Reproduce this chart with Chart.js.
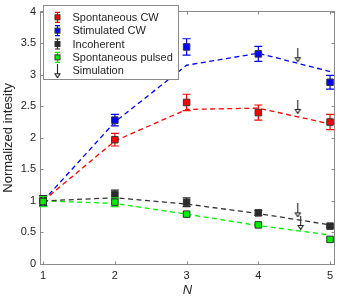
<!DOCTYPE html>
<html>
<head>
<meta charset="utf-8">
<script src="https://cdn.jsdelivr.net/npm/chart.js@4"></script>
<style>
  html, body { margin: 0; padding: 0; background: #fff; }
  #wrap { width: 342px; height: 298px; position: relative; }
</style>
</head>
<body>
<div id="wrap"><canvas id="chart"></canvas></div>
<script>
// x categories (N) and y ticks
const nValues = [1, 2, 3, 4, 5];
const yTicks = [0, 0.5, 1, 1.5, 2, 2.5, 3, 3.5, 4];
const yTickLabels = ['0', '0.5', '1', '1.5', '2', '2.5', '3', '3.5', '4'];

// measured points (with error bars)
const spontCW = [1.0, 1.97, 2.56, 2.40, 2.25];
const spontCWErr = [0.08, 0.10, 0.13, 0.12, 0.12];
const stimCW = [1.0, 2.28, 3.44, 3.33, 2.88];
const stimCWErr = [0.08, 0.09, 0.13, 0.12, 0.11];
const incoherent = [1.0, 1.10, 0.98, 0.81, 0.60];
const incoherentErr = [0.08, 0.07, 0.07, 0.04, 0.02];
const spontPulsed = [0.99, 0.98, 0.79, 0.62, 0.39];
const spontPulsedErr = [0.08, 0.07, 0.03, 0.03, 0.03];

// simulation curves
const simSpontCW = [1.0, 1.95, 2.45, 2.47, 2.22];
const simStimCW = [1.0, 2.25, 3.15, 3.34, 3.05];
const simIncoherent = [1.0, 1.05, 0.95, 0.80, 0.62];
const simSpontPulsed = [1.0, 0.96, 0.79, 0.61, 0.46];

// simulation arrows
const arrowN = [4.55, 4.55, 4.55, 4.59];
const arrowY = [3.31, 2.49, 0.85, 0.65];

const legendLabels = ['Spontaneous CW', 'Stimulated CW', 'Incoherent', 'Spontaneous pulsed', 'Simulation'];
const seriesColors = ['#ff0000', '#0000ff', '#2b2b2b', '#00ee00'];

const FONT = '"Liberation Sans", Arial, sans-serif';
Chart.defaults.font.family = FONT;

function makeArrow() {
    const c = document.createElement('canvas');
    c.width = 9; c.height = 14;
    const g = c.getContext('2d');
    g.strokeStyle = '#222'; g.lineWidth = 1.1;
    g.beginPath(); g.moveTo(4.5, 0); g.lineTo(4.5, 9.5); g.stroke();
    g.beginPath(); g.moveTo(2, 9.5); g.lineTo(7, 9.5); g.lineTo(4.5, 13.5); g.closePath();
    g.fillStyle = '#fff'; g.fill(); g.stroke();
    return c;
}
const arrowImg = makeArrow();

const pts = ys => nValues.map((n, i) => ({ x: n, y: ys[i] }));

const simLine = (ys, color) => ({
    data: pts(ys), showLine: true, pointRadius: 0, borderColor: color,
    borderWidth: 1.3, borderDash: [5, 3.5], order: 20, clip: false
});
const measured = (ys, errs, color, order) => ({
    data: pts(ys), pointStyle: 'rect', pointRadius: 4.6, backgroundColor: color,
    borderColor: '#333', borderWidth: 1, errors: errs, errorColor: color, order, clip: false
});

const errorBars = {
    id: 'errorBars',
    beforeDatasetDraw(chart, args) {
        const ds = chart.data.datasets[args.index];
        if (!ds.errors) return;
        const y = chart.scales.y, ctx = chart.ctx;
        ctx.save();
        ctx.strokeStyle = ds.errorColor; ctx.lineWidth = 1.2;
        args.meta.data.forEach((pt, i) => {
            const v = ds.data[i].y, e = ds.errors[i];
            const top = y.getPixelForValue(v + e), bot = y.getPixelForValue(v - e);
            ctx.beginPath();
            ctx.moveTo(pt.x, top); ctx.lineTo(pt.x, bot);
            ctx.moveTo(pt.x - 4, top); ctx.lineTo(pt.x + 4, top);
            ctx.moveTo(pt.x - 4, bot); ctx.lineTo(pt.x + 4, bot);
            ctx.stroke();
        });
        ctx.restore();
    }
};

const axisBox = {
    id: 'axisBox',
    beforeDatasetsDraw(chart) {
        const { ctx, chartArea: a, scales: { x, y } } = chart;
        ctx.save();
        ctx.strokeStyle = '#8a8a8a'; ctx.lineWidth = 1;
        const L = Math.round(a.left) - 0.5, R = Math.round(a.right) + 0.5;
        const T = Math.round(a.top) - 0.5, B = Math.round(a.bottom) + 0.5;
        ctx.strokeRect(L, T, R - L, B - T);
        ctx.beginPath();
        nValues.forEach(v => {
            const px = Math.round(x.getPixelForValue(v)) + 0.5;
            ctx.moveTo(px, B); ctx.lineTo(px, B - 3);
            ctx.moveTo(px, T); ctx.lineTo(px, T + 3);
        });
        yTicks.forEach(v => {
            const py = Math.round(y.getPixelForValue(v)) + 0.5;
            ctx.moveTo(L, py); ctx.lineTo(L + 3, py);
            ctx.moveTo(R, py); ctx.lineTo(R - 3, py);
        });
        ctx.stroke();
        ctx.restore();
    }
};

const boxLegend = {
    id: 'boxLegend',
    afterDraw(chart) {
        const ctx = chart.ctx;
        const bx = 43.5, by = 5.5, bw = 135, bh = 74;
        ctx.save();
        ctx.fillStyle = '#fff'; ctx.fillRect(bx, by, bw, bh);
        ctx.strokeStyle = '#8a8a8a'; ctx.lineWidth = 1; ctx.strokeRect(bx, by, bw, bh);
        ctx.font = '11px ' + FONT; ctx.textBaseline = 'middle'; ctx.fillStyle = '#262626';
        legendLabels.forEach((lab, i) => {
            const ry = 17.3 + i * 13.35, mx = 57.5;
            if (i < 4) {
                ctx.strokeStyle = seriesColors[i]; ctx.lineWidth = 1.2;
                ctx.beginPath();
                ctx.moveTo(mx, ry - 5); ctx.lineTo(mx, ry + 5);
                ctx.moveTo(mx - 2.5, ry - 5); ctx.lineTo(mx + 2.5, ry - 5);
                ctx.moveTo(mx - 2.5, ry + 5); ctx.lineTo(mx + 2.5, ry + 5);
                ctx.stroke();
                ctx.fillStyle = seriesColors[i]; ctx.fillRect(mx - 2.5, ry - 2.5, 5, 5);
                ctx.strokeStyle = '#333'; ctx.lineWidth = 1; ctx.strokeRect(mx - 2.5, ry - 2.5, 5, 5);
            } else {
                ctx.drawImage(arrowImg, mx - 4.5, ry - 6.5);
            }
            ctx.fillStyle = '#262626';
            ctx.fillText(lab, 72.5, ry + 0.5);
        });
        ctx.restore();
    }
};

new Chart(document.getElementById('chart'), {
    type: 'scatter',
    data: {
        datasets: [
            simLine(simSpontCW, seriesColors[0]),
            simLine(simStimCW, seriesColors[1]),
            simLine(simIncoherent, '#333333'),
            simLine(simSpontPulsed, seriesColors[3]),
            {
                data: arrowN.map((n, i) => ({ x: n, y: arrowY[i] })),
                pointStyle: arrowImg, pointRadius: 7, order: 0, clip: false
            },
            measured(spontCW, spontCWErr, seriesColors[0], 4),
            measured(stimCW, stimCWErr, seriesColors[1], 3),
            measured(incoherent, incoherentErr, seriesColors[2], 2),
            measured(spontPulsed, spontPulsedErr, seriesColors[3], 1)
        ]
    },
    options: {
        responsive: true,
        maintainAspectRatio: false,
        animation: false,
        layout: { padding: { top: 6, right: 5, left: 0, bottom: 0 } },
        plugins: { legend: { display: false }, tooltip: { enabled: false } },
        scales: {
            x: {
                type: 'linear', min: 0.97, max: 5.055,
                afterBuildTicks: s => { s.ticks = nValues.map(v => ({ value: v })); },
                grid: { display: false, drawTicks: false },
                border: { display: false },
                ticks: { color: '#262626', font: { size: 11 }, padding: 5, maxRotation: 0, callback: v => String(v) },
                title: { display: true, text: 'N', color: '#262626', font: { size: 13, style: 'italic' }, padding: { top: 0, bottom: 0 } },
                afterFit: s => { s.height = 34; }
            },
            y: {
                type: 'linear', min: 0, max: 4,
                afterBuildTicks: s => { s.ticks = yTicks.map(v => ({ value: v })); },
                grid: { display: false, drawTicks: false },
                border: { display: false },
                ticks: { color: '#262626', font: { size: 11 }, padding: 5, callback: (v, i) => yTickLabels[i] },
                title: { display: true, text: 'Normalized intesity', color: '#262626', font: { size: 13 }, padding: { top: 1, bottom: 0 } },
                afterFit: s => { s.width = 41; }
            }
        }
    },
    plugins: [axisBox, errorBars, boxLegend]
});
</script>
</body>
</html>
